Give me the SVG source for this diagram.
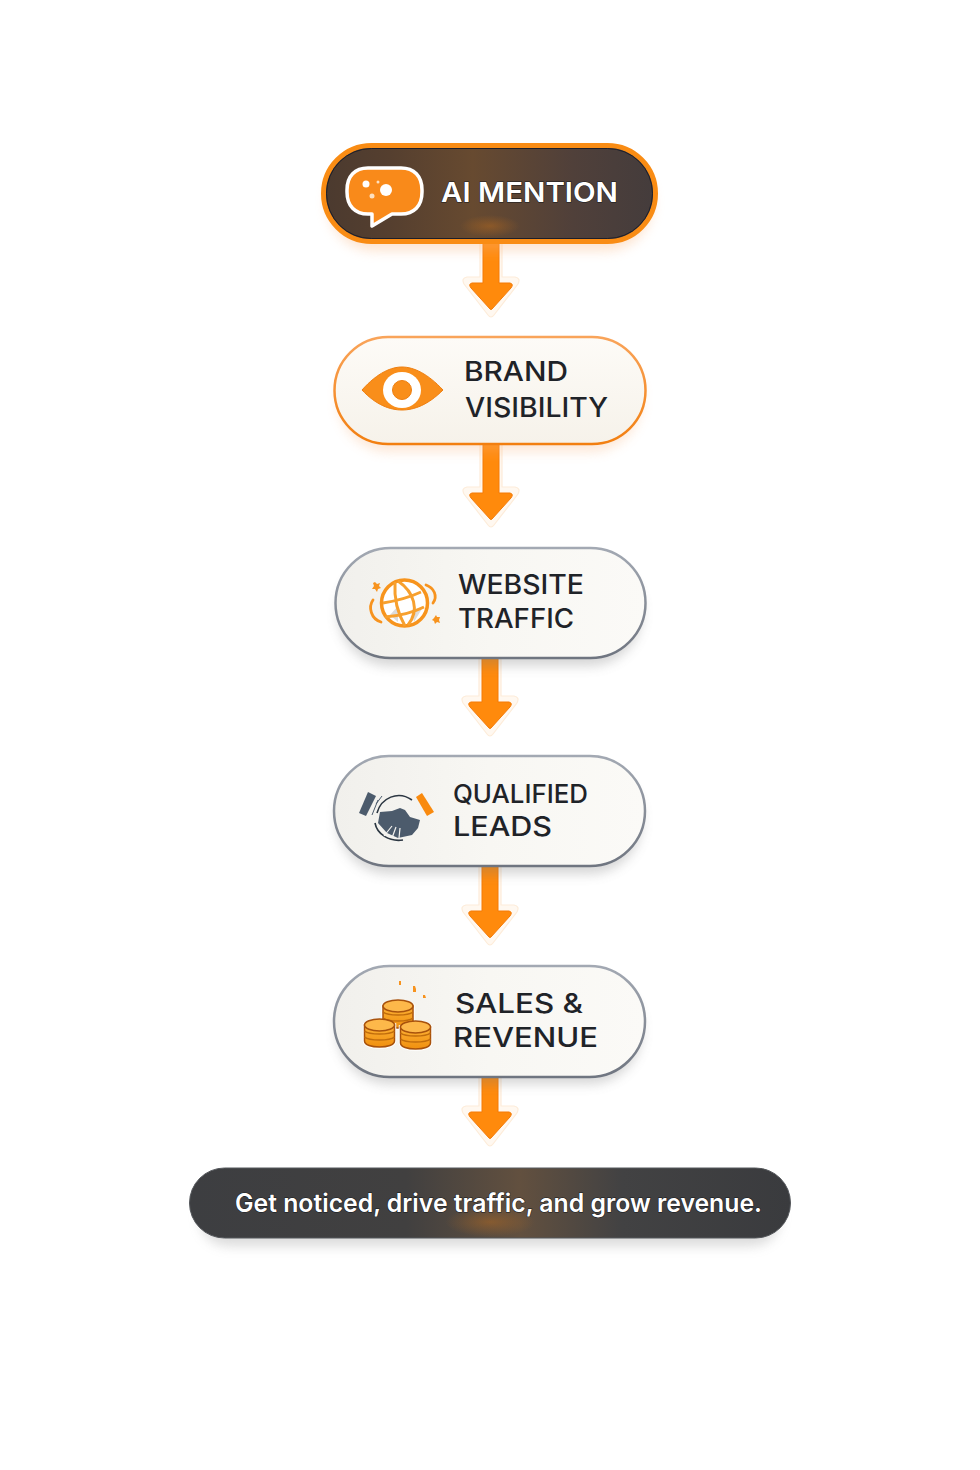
<svg xmlns="http://www.w3.org/2000/svg" width="980" height="1470" viewBox="0 0 980 1470">
<style>
.t{font-family:"Inter","Liberation Sans",sans-serif;font-weight:500;fill:#1f2328;font-size:27px}
.w{fill:#fff;stroke:#15181c;stroke-width:1;paint-order:stroke;font-weight:600}
.halo{fill:#fff8f0;stroke:#fdecd9;stroke-width:1.2;stroke-linejoin:round}
.fl{fill:#ff8a0c;stroke:#f47a06;stroke-width:1;stroke-linejoin:round}
.sq{fill:none;stroke:#f7931e;stroke-width:2.800;stroke-linecap:round}
.slate{fill:#4c5b6c}
</style>
<defs>
<linearGradient id="cream" x1="0" y1="0" x2="0" y2="1"><stop offset="0" stop-color="#fdfbf7"/><stop offset="1" stop-color="#f6f2ea"/></linearGradient>
<linearGradient id="grey" x1="0" y1="0" x2="1" y2="0"><stop offset="0" stop-color="#f1f0ec"/><stop offset=".5" stop-color="#f8f7f3"/><stop offset="1" stop-color="#fbfaf7"/></linearGradient>
<linearGradient id="gs" x1="0" y1="0" x2="0" y2="1"><stop offset="0" stop-color="#a3a9b3"/><stop offset="1" stop-color="#6f7580"/></linearGradient>
<linearGradient id="os" x1="0" y1="0" x2="0" y2="1"><stop offset="0" stop-color="#f9a45a"/><stop offset="1" stop-color="#f27f10"/></linearGradient>
<linearGradient id="dark1" x1="0" y1="0" x2="1" y2="0"><stop offset="0" stop-color="#4b3a2f"/><stop offset=".2" stop-color="#553f2f"/><stop offset=".45" stop-color="#674a30"/><stop offset=".75" stop-color="#50403a"/><stop offset="1" stop-color="#443c3c"/></linearGradient>
<linearGradient id="dark2" x1="0" y1="0" x2="1" y2="0"><stop offset="0" stop-color="#3d3e41"/><stop offset=".36" stop-color="#414040"/><stop offset=".55" stop-color="#62503f"/><stop offset=".72" stop-color="#424243"/><stop offset="1" stop-color="#3a3b3e"/></linearGradient>
<radialGradient id="glow"><stop offset="0" stop-color="#c8711a" stop-opacity=".4"/><stop offset="1" stop-color="#c8711a" stop-opacity="0"/></radialGradient>
<linearGradient id="coin" x1="0" y1="0" x2="0" y2="1"><stop offset="0" stop-color="#fdb136"/><stop offset="1" stop-color="#f0900f"/></linearGradient>
<filter id="sh" x="-20%" y="-30%" width="140%" height="170%"><feGaussianBlur stdDeviation="6"/></filter>
<g id="ar">
<path class="halo" d="M-11-12V34H-24Q-30 35-27 41L-3 72Q0 76 3 72L27 41Q30 35 24 34H11V-12Z"/>
<path class="fl" d="M-8-12V40H-19Q-23 41-20 45L-1 66Q0 67 1 66L20 45Q23 41 19 40H8V-12Z"/>
</g>
<g id="coins"><path d="M-15-7V9C-15 13-8 15 0 15S15 13 15 9V-7Z" fill="url(#coin)" stroke="#fff" stroke-width="3.500"/><path d="M-15-7V9C-15 13-8 15 0 15S15 13 15 9V-7Z" fill="url(#coin)" stroke="#a8520c" stroke-width="1.500"/><ellipse cx="0" cy="-7" rx="15" ry="6" fill="#fdb84a" stroke="#a8520c" stroke-width="1.500"/><path d="M-15-1C-10 3 10 3 15-1M-15 5C-10 9 10 9 15 5" fill="none" stroke="#c06c0c" stroke-width="1.600"/></g>
</defs>
<rect width="980" height="1470" fill="#fff"/>

<g id="connectors">
<use href="#ar" x="491" y="243"/>
<use href="#ar" x="491" y="453"/>
<use href="#ar" x="490" y="662"/>
<use href="#ar" x="490" y="871"/>
<use href="#ar" x="490" y="1072"/>
</g>

<g id="node-ai-mention">
<rect x="327" y="155" width="326" height="96" rx="48" fill="#f9b27a" opacity=".35" filter="url(#sh)"/>
<rect x="323.500" y="145.500" width="332" height="96" rx="48" fill="url(#dark1)" stroke="#f98c14" stroke-width="5"/>
<rect x="326.500" y="148.500" width="326" height="90" rx="45" fill="none" stroke="#1d1f2a" stroke-width="1"/>
<ellipse cx="490" cy="226" rx="30" ry="11" fill="url(#glow)"/>
<path d="M368 168H401C414 168 422 176 422 190V192C422 206 414 214 401 214H392L372 226L372 214H368C355 214 347 206 347 192V190C347 176 355 168 368 168Z" fill="#f98a1a" stroke="#fff" stroke-width="3.500" stroke-linejoin="round"/>
<circle cx="366" cy="184" r="3.500" fill="#fff"/><circle cx="386" cy="190" r="6" fill="#fff"/><circle cx="372" cy="196" r="2.500" fill="#fde0c0"/><circle cx="378" cy="182" r="1.500" fill="#fde0c0"/>
<text class="t w" x="441" y="202" textLength="177" lengthAdjust="spacingAndGlyphs">AI MENTION</text>
</g>

<g id="node-brand-visibility">
<rect x="338" y="348" width="304" height="104" rx="52" fill="#f7b27c" opacity=".3" filter="url(#sh)"/>
<rect x="334.500" y="337" width="311" height="107" rx="53.500" fill="url(#cream)" stroke="url(#os)" stroke-width="2.500"/>
<path d="M362 390C378 372 392 367 402 367C414 367 428 374 443 390C428 405 414 410 402 410C390 410 376 405 362 390Z" fill="#f98e1a" stroke="#ee7f10"/>
<ellipse cx="402" cy="390" rx="19" ry="18" fill="#fff"/>
<circle cx="402" cy="390" r="9.500" fill="#f98e1a" stroke="#ee7f10"/>
<text class="t" x="464" y="381" textLength="104" lengthAdjust="spacingAndGlyphs">BRAND</text>
<text class="t" x="465" y="417" textLength="143" lengthAdjust="spacingAndGlyphs">VISIBILITY</text>
</g>

<g id="node-website-traffic">
<rect x="338" y="560" width="304" height="106" rx="53" fill="#777" opacity=".3" filter="url(#sh)"/>
<rect x="335.500" y="548" width="310" height="110" rx="55" fill="url(#grey)" stroke="url(#gs)" stroke-width="2.500"/>
<circle cx="404.500" cy="603" r="23.500" fill="#fff"/>
<path d="M390 615L398 606 398 622ZM412 610L423 607 414 622Z" fill="#dcdcdc"/>
<circle cx="404.500" cy="603" r="23" fill="none" stroke="#f7941d" stroke-width="3.500"/>
<path d="M395 582C394 598 398 614 405 626M398 581C414 592 420 610 408 625M383 603C396 601 408 598 421 592M385 617C398 616 412 613 424 607" fill="none" stroke="#f7a02e" stroke-width="3"/>
<path class="sq" d="M373 600C368 607 371 619 381 622M426 585C434 588 438 596 433 603"/>
<path d="M375 582l2 2 3-1-1 3 2 2-3 1-1 3-2-3-3 0 2-3-1-3z" fill="#f7931e"/>
<path d="M436 615l1 2 3 0-1 3 1 3-3-1-2 2-1-3-2-1 2-2z" fill="#f7931e"/>
<text class="t" x="458" y="594" textLength="126" lengthAdjust="spacingAndGlyphs">WEBSITE</text>
<text class="t" x="458" y="628" textLength="116" lengthAdjust="spacingAndGlyphs">TRAFFIC</text>
</g>

<g id="node-qualified-leads">
<rect x="337" y="768" width="305" height="106" rx="53" fill="#777" opacity=".3" filter="url(#sh)"/>
<rect x="334" y="756" width="311" height="110" rx="55" fill="url(#grey)" stroke="url(#gs)" stroke-width="2.500"/>
<path class="slate" d="M368 792L376 796 366 816 359 813Z"/>
<path d="M416 797L422 793 434 812 427 816Z" fill="#f98a0e"/>
<path d="M377 813C381 798 398 790 412 800M375 823C377 834 389 842 403 840" fill="none" stroke="#2c3742" stroke-width="1.600"/>
<path class="slate" d="M380 812L392 811 400 808 405 810 410 817 420 820 418 828 412 835 398 838 387 833 378 823Z"/>
<path d="M384 836L392 826M392 838L396 827M399 838L400 828" stroke="#f6f5f1" stroke-width="1.200"/>
<path d="M376 804L382 796M372 815L378 800" stroke="#4c5b6c" stroke-width="1"/>
<text class="t" x="453" y="803" style="font-size:25px" textLength="135" lengthAdjust="spacingAndGlyphs">QUALIFIED</text>
<text class="t" x="453" y="836" textLength="99" lengthAdjust="spacingAndGlyphs">LEADS</text>
</g>

<g id="node-sales-revenue">
<rect x="337" y="978" width="305" height="106" rx="53" fill="#777" opacity=".3" filter="url(#sh)"/>
<rect x="334" y="966" width="311" height="111" rx="55.500" fill="url(#grey)" stroke="url(#gs)" stroke-width="2.500"/>
<use href="#coins" x="398" y="1013"/>
<use href="#coins" x="379.500" y="1032"/>
<use href="#coins" x="415.500" y="1034"/>
<path d="M399 981l2 0 0 4-2 0zM413 986l2 0 1 3 0 3-3 0zM423 995l2 0 1 3-3 0z" fill="#f7931e"/>
<text class="t" x="455" y="1013" textLength="128" lengthAdjust="spacingAndGlyphs">SALES &amp;</text>
<text class="t" x="453" y="1047" textLength="145" lengthAdjust="spacingAndGlyphs">REVENUE</text>
</g>

<g id="node-tagline">
<rect x="200" y="1190" width="580" height="56" rx="28" fill="#999" opacity=".35" filter="url(#sh)"/>
<rect x="189.500" y="1168" width="601" height="70" rx="35" fill="url(#dark2)" stroke="#55585c" stroke-width="1"/>
<ellipse cx="490" cy="1222" rx="45" ry="15" fill="url(#glow)"/>
<text class="t w" x="235" y="1212" style="font-size:25px;font-weight:600" textLength="527" lengthAdjust="spacingAndGlyphs">Get noticed, drive traffic, and grow revenue.</text>
</g>
</svg>
